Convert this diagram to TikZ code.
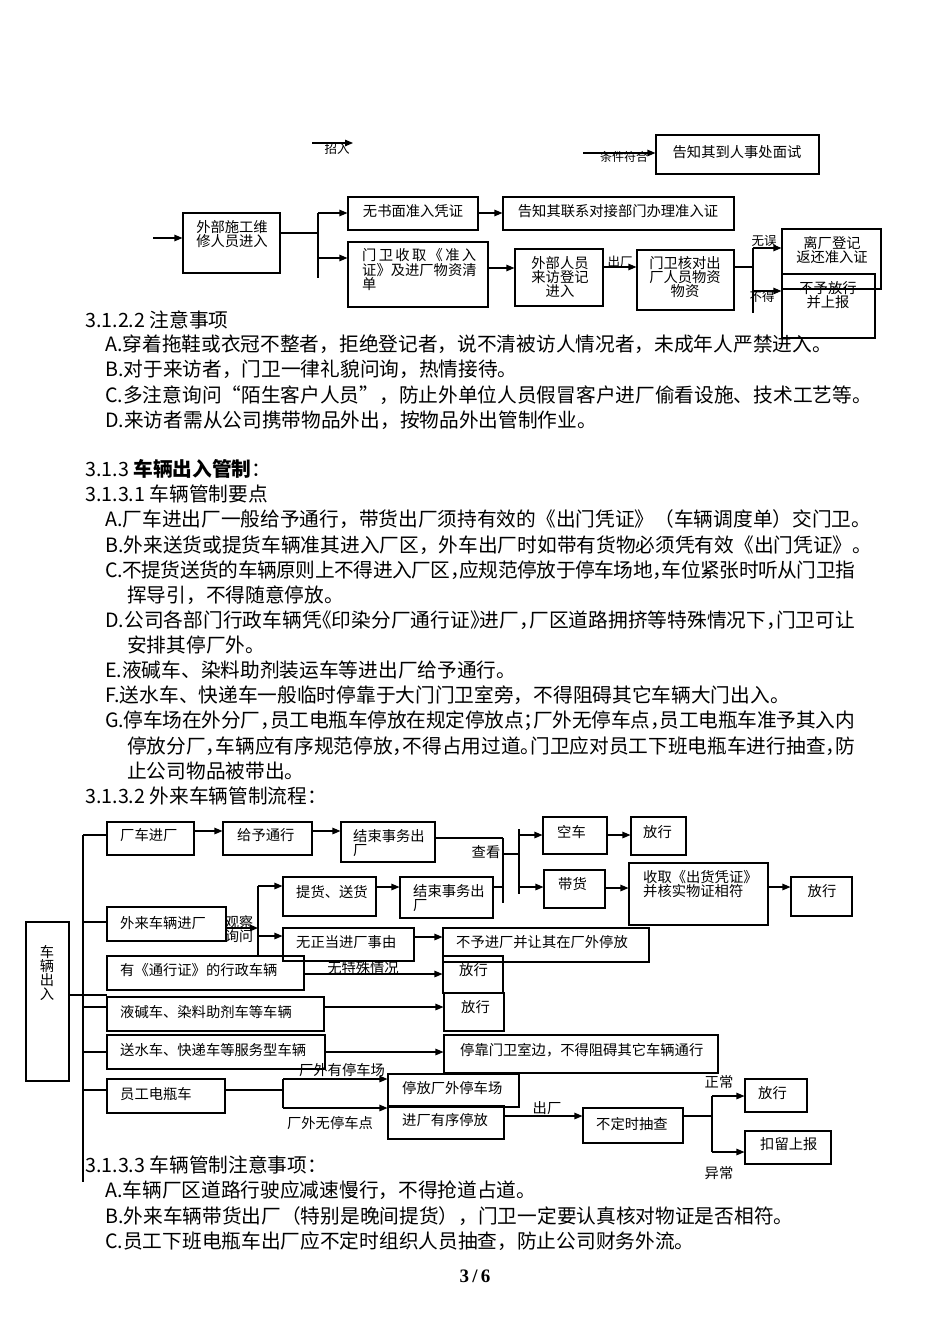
\documentclass[tikz,border=0pt]{standalone}
\usepackage{fontspec}
\setmainfont{Noto Sans CJK SC}
\newfontfamily\pgfont{Liberation Serif}
\usetikzlibrary{arrows.meta}
\newcommand\cp[1]{\makebox[0.5em][l]{#1}}
\newcommand\op[1]{\makebox[0.5em][r]{#1}}
\def\jst#1{#1\jloop}
\def\jloop#1{\ifx#1\relax\else\hskip0pt plus 1fil minus 2pt #1\expandafter\jloop\fi}
\newcommand\jline[2]{\makebox[#1][s]{\jst #2\relax}}
\newcommand\bxn[5]{\node[boxst, minimum width={(#4-#2)*1pt}, minimum height={(#5-#3)*1pt}] (#1) at ({(#2+#4)/2},{(#3+#5)/2}) {};}
\tikzset{
 boxst/.style={draw, line width=1.1pt, inner sep=0pt},
 ln/.style={line width=1.1pt},
 arr/.style={line width=1.1pt, -{Triangle[length=8pt,width=6.5pt]}},
 dt/.style={inner sep=0pt, font=\fontsize{14.3}{14}\selectfont},
 sl/.style={inner sep=0pt, font=\fontsize{12.5}{12.5}\selectfont},
 bt/.style={inner sep=0pt, anchor=west, font=\fontsize{19.7}{22}\selectfont},
}
\begin{document}
\begin{tikzpicture}[x=1pt,y=-1pt]
\fill[white] (0,0) rectangle (950,1344);
\useasboundingbox (0,0) rectangle (950,1344);

% ---------- top flow ----------
\coordinate (Z1) at (312,143); \coordinate (Z2) at (353,143);
\draw[arr] (Z1) -- (Z2);
\node[sl] (Zt) at (337,149) {招入};

\bxn{I}{656}{135}{819}{174}
\node[dt] (It) at (737,152) {告知其到人事处面试};
\coordinate (Iin) at (583,153);
\draw[arr] (Iin) -- (I.west |- Iin);
\node[sl, font=\fontsize{12}{12}\selectfont] (Il) at (624,157) {条件符合};

\bxn{A}{183}{213}{280}{273}
\node[dt, align=center] (At) at (232,234) {外部施工维\\修人员进入};
\coordinate (Ain) at (153,238);
\draw[arr] (Ain) -- (A.west |- Ain);
\coordinate (Aj) at (318,233); \coordinate (Ajt) at (318,213); \coordinate (Ajb) at (318,278);
\draw[ln] (A.east |- Aj) -- (Aj);
\draw[ln] (Ajt) -- (Ajb);

\bxn{B}{348}{197}{478}{230}
\node[dt] (Bt) at (413,211) {无书面准入凭证};
\draw[arr] (Ajt) -- (B.west |- Ajt);

\bxn{D}{503}{197}{734}{230}
\node[dt] (Dt) at (618,211) {告知其联系对接部门办理准入证};
\draw[arr] (B.east |- 0,213) -- (D.west |- 0,213);

\bxn{C}{348}{242}{488}{307}
\coordinate (Cin) at (318,258);
\draw[arr] (Cin) -- (C.west |- Cin);
\node[dt, anchor=west] (Ct1) at (362,255) {\makebox[114pt][s]{门\hfil 卫\hfil 收\hfil 取\hfil 《\hfil 准\hfil 入}};
\node[dt, anchor=west] (Ct2) at (362,270) {证》及进厂物资清};
\node[dt, anchor=west] (Ct3) at (362,284) {单};

\bxn{E}{515}{249}{603}{306}
\node[dt, align=center] (Et) at (560,277) {外部人员\\来访登记\\进入};
\draw[arr] (C.east |- 0,268) -- (E.west |- 0,268);

\bxn{F}{637}{250}{734}{310}
\node[dt, align=center] (Ft) at (685,277) {门卫核对出\\厂人员物资\\物资};
\draw[arr] (E.east |- 0,267) -- (F.west |- 0,267);
\node[sl] (Fl) at (620,262) {出厂};

\coordinate (Fj) at (753,267); \coordinate (Fjt) at (753,248); \coordinate (Fjb) at (753,313);
\draw[ln] (F.east |- Fj) -- (Fj);
\draw[ln] (Fjt) -- (Fjb);

\bxn{G}{782}{229}{881}{289}
\node[dt, align=center] (Gt) at (832,250) {离厂登记\\返还准入证};
\bxn{H}{782}{274}{875}{338}
\node[dt, align=center] (Ht) at (828,295) {不予放行\\并上报};
\draw[arr] (Fjt) -- (G.west |- Fjt);
\coordinate (Hin) at (753,291);
\draw[arr] (Hin) -- (H.west |- Hin);
\node[sl] (Gl) at (764,241) {无误};
\node[sl] (Hl) at (762,297) {不得};

% ---------- body text 1 ----------
\node[bt] (h1) at (85,320) {3.1.2.2 注意事项};
\node[bt] (a1) at (105,344) {A.穿着拖鞋或衣冠不整者，拒绝登记者，说不清被访人情况者，未成年人严禁进入。};
\node[bt] (a2) at (105,369) {B.对于来访者，门卫一律礼貌问询，热情接待。};
\node[bt] (a3) at (105,395) {C.多注意询问“陌生客户人员”，防止外单位人员假冒客户进厂偷看设施、技术工艺等。};
\node[bt] (a4) at (105,420) {D.来访者需从公司携带物品外出，按物品外出管制作业。};

\node[bt] (h2) at (85,469) {3.1.3 {\bfseries 车辆出入管制}：};
\node[bt] (h3) at (85,494) {3.1.3.1 车辆管制要点};
\node[bt] (b1) at (105,519) {A.厂车进出厂一般给予通行，带货出厂须持有效的《出门凭证》（车辆调度单）交门卫。};
\node[bt] (b2) at (105,545) {B.外来送货或提货车辆准其进入厂区，外车出厂时如带有货物必须凭有效《出门凭证》。};
\node[bt] (b3) at (105,570) {\jline{750pt}{C.不提货送货的车辆原则上不得进入厂区{\cp，}应规范停放于停车场地{\cp，}车位紧张时听从门卫指}};
\node[bt] (b3c) at (127,595) {挥导引，不得随意停放。};
\node[bt] (b4) at (105,620) {\jline{750pt}{D.公司各部门行政车辆凭{\op《}印染分厂通行证{\cp》}进厂{\cp，}厂区道路拥挤等特殊情况下{\cp，}门卫可让}};
\node[bt] (b4c) at (127,645) {安排其停厂外。};
\node[bt] (b5) at (105,670) {E.液碱车、染料助剂装运车等进出厂给予通行。};
\node[bt] (b6) at (105,695) {F.送水车、快递车一般临时停靠于大门门卫室旁，不得阻碍其它车辆大门出入。};
\node[bt] (b7) at (105,721) {\jline{750pt}{G.停车场在外分厂{\cp，}员工电瓶车停放在规定停放点{\cp；}厂外无停车点{\cp，}员工电瓶车准予其入内}};
\node[bt] (b7c) at (127,746) {\jline{728pt}{停放分厂{\cp，}车辆应有序规范停放{\cp，}不得占用过道{\cp。}门卫应对员工下班电瓶车进行抽查{\cp，}防}};
\node[bt] (b7d) at (127,771) {止公司物品被带出。};
\node[bt] (h4) at (85,796) {3.1.3.2 外来车辆管制流程：};

% ---------- flow 2 ----------
\bxn{V}{26}{922}{69}{1081}
\node[dt, align=center, font=\fontsize{14.3}{14.3}\selectfont] (Vt) at (47,973) {车\\辆\\出\\入};
\coordinate (Tt) at (83,835); \coordinate (Tb) at (83,1182);
\draw[ln] (Tt) -- (Tb);
\coordinate (Vo) at (107,995);
\draw[ln] (V.east |- Vo) -- (Vo);

\bxn{q1}{107}{822}{194}{855}
\node[dt, anchor=west] (q1t) at (120,835) {厂车进厂};
\bxn{q2}{223}{822}{312}{855}
\node[dt, anchor=west] (q2t) at (237,835) {给予通行};
\bxn{q3}{341}{822}{435}{862}
\node[dt, anchor=west, align=left, font=\fontsize{14.3}{13.3}\selectfont] (q3t) at (353,843) {结束事务出\\厂};
\draw[ln] (Tt) -- (q1.west |- Tt);
\draw[arr] (q1.east |- 0,831) -- (q2.west |- 0,831);
\draw[arr] (q2.east |- 0,831) -- (q3.west |- 0,831);

\bxn{w1}{107}{907}{226}{941}
\node[dt, anchor=west] (w1t) at (120,923) {外来车辆进厂};
\coordinate (W0) at (83,922);
\draw[ln] (W0) -- (w1.west |- W0);
\coordinate (Wj) at (258,928); \coordinate (Wjt) at (258,886); \coordinate (Wjb) at (258,957);
\draw[arr] (w1.east |- Wj) -- (Wj);
\draw[ln] (Wjt) -- (Wjb);
\node[dt, align=center, font=\fontsize{14}{14.5}\selectfont] (Wl) at (239,929) {观察\\询问};

\bxn{th}{283}{877}{376}{916}
\node[dt, anchor=west] (tht) at (296,892) {提货、送货};
\draw[arr] (Wjt) -- (th.west |- Wjt);
\bxn{q5}{400}{877}{493}{918}
\node[dt, anchor=west, align=left, font=\fontsize{14.3}{13.3}\selectfont] (q5t) at (413,898) {结束事务出\\厂};
\draw[arr] (th.east |- 0,887) -- (q5.west |- 0,887);

\coordinate (Kj) at (503,854); \coordinate (Kjt) at (503,838); \coordinate (Kjb) at (503,903);
\draw[ln] (q3.east |- Kjt) -- (Kjt);
\draw[ln] (q5.east |- 0,887) -- (503,887);
\draw[ln] (Kjt) -- (Kjb);
\coordinate (Kk) at (519,854); \coordinate (Kkt) at (519,829); \coordinate (Kkb) at (519,894);
\draw[ln] (Kj) -- (Kk);
\draw[ln] (Kkt) -- (Kkb);
\node[dt] (Kl) at (486,852) {查看};

\bxn{kc}{543}{817}{607}{854}
\node[dt, anchor=west] (kct) at (557,832) {空车};
\draw[arr] (519,835) -- (kc.west |- 0,835);
\bxn{fx1}{631}{817}{686}{855}
\node[dt, anchor=west] (fx1t) at (643,832) {放行};
\draw[arr] (kc.east |- 0,835) -- (fx1.west |- 0,835);

\bxn{dh}{544}{870}{605}{908}
\node[dt, anchor=west] (dht) at (558,884) {带货};
\draw[arr] (519,887) -- (dh.west |- 0,887);
\bxn{sq}{629}{863}{768}{925}
\node[dt, anchor=west, align=left, font=\fontsize{14.3}{14}\selectfont] (sqt) at (643,884) {收取《出货凭证》\\并核实物证相符};
\draw[arr] (dh.east |- 0,888) -- (sq.west |- 0,888);
\bxn{fx2}{791}{877}{852}{916}
\node[dt] (fx2t) at (822,891) {放行};
\draw[arr] (sq.east |- 0,887) -- (fx2.west |- 0,887);

\bxn{wz}{283}{928}{414}{961}
\node[dt, anchor=west] (wzt) at (296,942) {无正当进厂事由};
\draw[arr] (258,936) -- (wz.west |- 0,936);
\bxn{bj}{443}{928}{649}{962}
\node[dt, anchor=west] (bjt) at (456,942) {不予进厂并让其在厂外停放};
\draw[arr] (wz.east |- 0,937) -- (bj.west |- 0,937);

\bxn{tx}{107}{956}{304}{990}
\node[dt, anchor=west] (txt) at (120,970) {有《通行证》的行政车辆};
\bxn{fx3}{443}{956}{503}{993}
\node[dt, anchor=west] (fx3t) at (459,970) {放行};
\draw[arr] (tx.east |- 0,974) -- (fx3.west |- 0,974);
\node[dt] (txl) at (363,968) {无特殊情况};

\bxn{yj}{107}{997}{324}{1031}
\node[dt, anchor=west] (yjt) at (120,1012) {液碱车、染料助剂车等车辆};
\coordinate (Y0) at (83,1007);
\draw[ln] (Y0) -- (yj.west |- Y0);
\bxn{fx4}{444}{993}{504}{1031}
\node[dt, anchor=west] (fx4t) at (461,1007) {放行};
\draw[arr] (yj.east |- Y0) -- (fx4.west |- Y0);

\bxn{ss}{107}{1035}{325}{1069}
\node[dt, anchor=west] (sst) at (120,1050) {送水车、快递车等服务型车辆};
\coordinate (S0) at (83,1052);
\draw[ln] (S0) -- (ss.west |- S0);
\bxn{tk}{444}{1035}{718}{1073}
\node[dt, anchor=west] (tkt) at (460,1050) {停靠门卫室边，不得阻碍其它车辆通行};
\draw[arr] (ss.east |- S0) -- (tk.west |- S0);

\bxn{yg}{107}{1079}{225}{1113}
\node[dt, anchor=west] (ygt) at (120,1094) {员工电瓶车};
\coordinate (G0) at (83,1090);
\draw[ln] (G0) -- (yg.west |- G0);
\coordinate (Gj) at (283,1090); \coordinate (Gjt) at (283,1079); \coordinate (Gjb) at (283,1108);
\draw[ln] (yg.east |- Gj) -- (Gj);
\draw[ln] (Gjt) -- (Gjb);
\bxn{tf}{388}{1074}{519}{1107}
\node[dt, anchor=west] (tft) at (402,1088) {停放厂外停车场};
\bxn{jc}{388}{1106}{504}{1139}
\node[dt, anchor=west] (jct) at (402,1120) {进厂有序停放};
\draw[arr] (Gjt) -- (tf.west |- Gjt);
\draw[arr] (Gjb) -- (jc.west |- Gjb);
\node[dt] (Gl1) at (342,1070) {厂外有停车场};
\node[dt] (Gl2) at (330,1123) {厂外无停车点};

\bxn{bd}{583}{1108}{683}{1143}
\node[dt, anchor=west] (bdt) at (596,1124) {不定时抽查};
\draw[arr] (jc.east |- 0,1116) -- (bd.west |- 0,1116);
\node[dt] (bdl) at (547,1108) {出厂};
\coordinate (Bj) at (712,1116); \coordinate (Bjt) at (712,1096); \coordinate (Bjb) at (712,1152);
\draw[ln] (bd.east |- Bj) -- (Bj);
\draw[ln] (Bjt) -- (Bjb);
\bxn{fx5}{745}{1079}{807}{1112}
\node[dt, anchor=west] (fx5t) at (758,1093) {放行};
\bxn{kl}{745}{1131}{831}{1164}
\node[dt, anchor=west] (klt) at (760,1144) {扣留上报};
\draw[arr] (Bjt) -- (fx5.west |- Bjt);
\draw[arr] (Bjb) -- (kl.west |- Bjb);
\node[dt] (Bl1) at (719,1082) {正常};
\node[dt] (Bl2) at (719,1173) {异常};

% ---------- body text 2 ----------
\node[bt] (h5) at (85,1165) {3.1.3.3 车辆管制注意事项：};
\node[bt] (c1) at (105,1190) {A.车辆厂区道路行驶应减速慢行，不得抢道占道。};
\node[bt] (c2) at (105,1216) {B.外来车辆带货出厂（特别是晚间提货），门卫一定要认真核对物证是否相符。};
\node[bt] (c3) at (105,1241) {C.员工下班电瓶车出厂应不定时组织人员抽查，防止公司财务外流。};

\node[inner sep=0pt, font=\pgfont\bfseries\fontsize{19}{19}\selectfont] (pg) at (475,1276) {3\,/\,6};
\end{tikzpicture}
\end{document}
